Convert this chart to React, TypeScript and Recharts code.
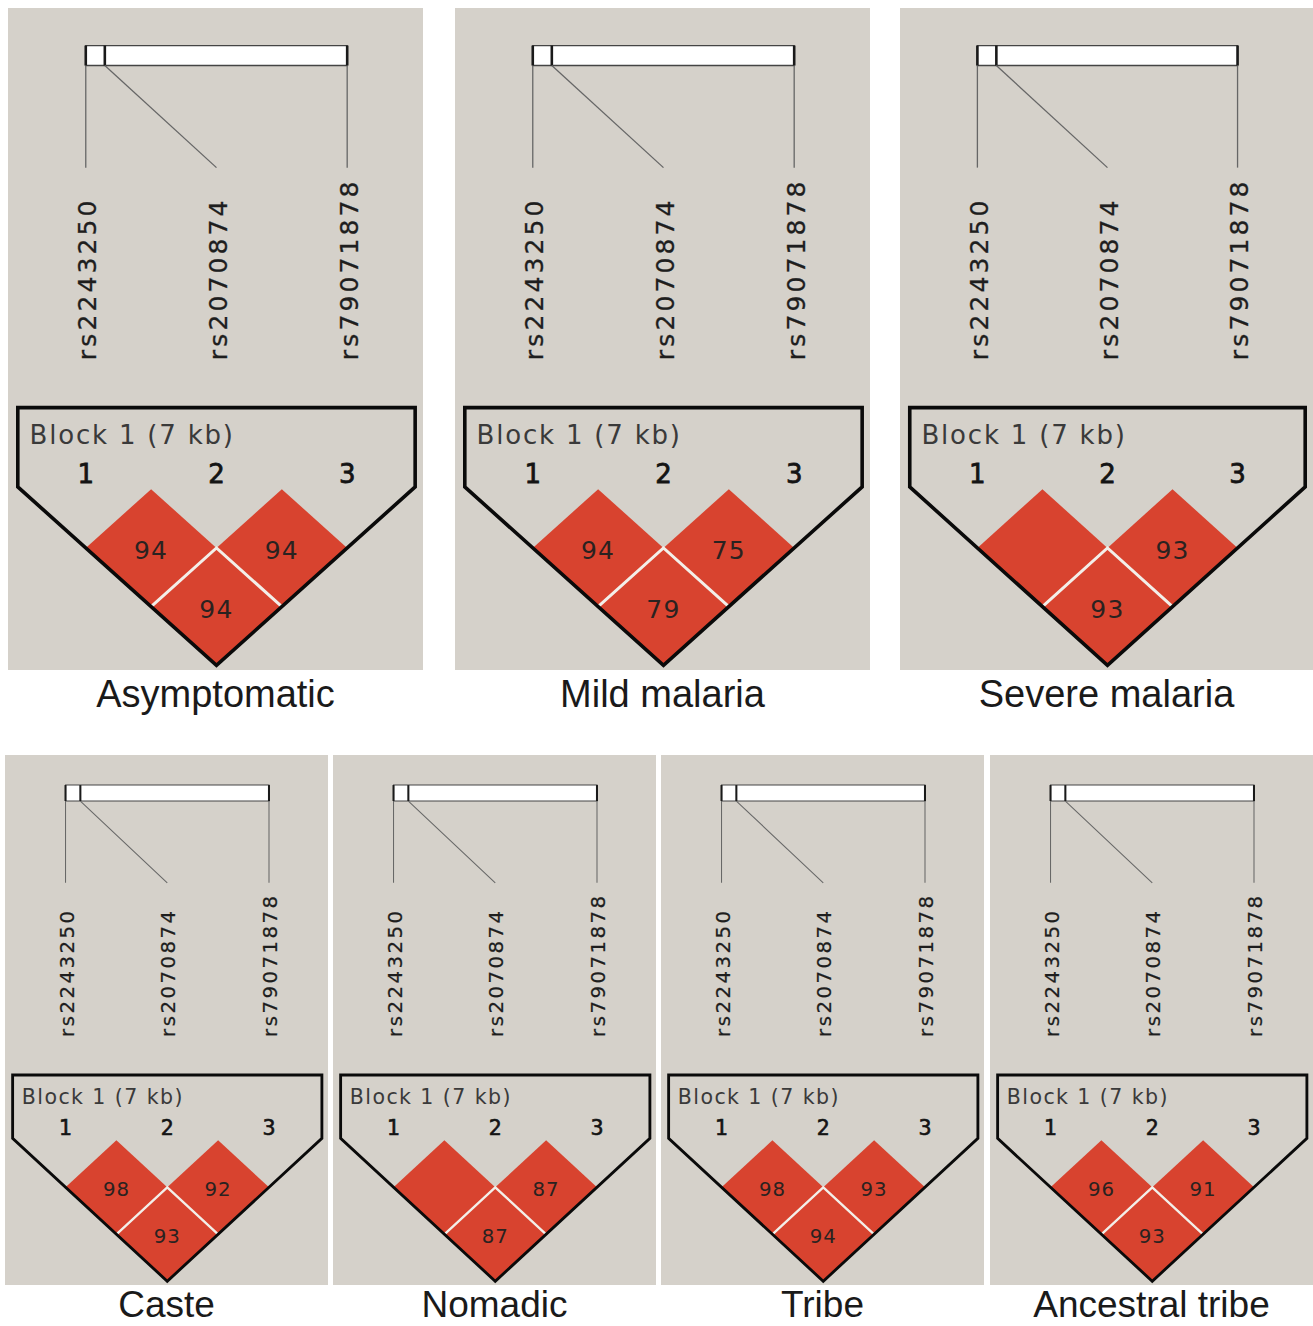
import React from "react";
import { ComposedChart, XAxis, YAxis, Scatter, ReferenceArea, ReferenceLine } from "recharts";

// markers of the block and their physical position inside the 7 kb block
const SNP_NAMES = ["rs2243250", "rs2070874", "rs79071878"];
const SNP_POS_KB = [0, 0.51, 7];
const BLOCK_KB = 7;
const BLOCK_LABEL = "Block 1 (7 kb)";

// D' (x100) for marker pairs 1-2, 2-3, 1-3 ; 100 = D' of 1, printed without a number
const PAIRS = [
  [1, 2],
  [2, 3],
  [1, 3],
];
const ASYMPTOMATIC = [94, 94, 94];
const MILD_MALARIA = [94, 75, 79];
const SEVERE_MALARIA = [100, 93, 93];
const CASTE = [98, 92, 93];
const NOMADIC = [100, 87, 87];
const TRIBE = [98, 93, 94];
const ANCESTRAL_TRIBE = [96, 91, 93];

const TOP_TITLES = ["Asymptomatic", "Mild malaria", "Severe malaria"];
const TOP_VALUES = [ASYMPTOMATIC, MILD_MALARIA, SEVERE_MALARIA];
const BOTTOM_TITLES = ["Caste", "Nomadic", "Tribe", "Ancestral tribe"];
const BOTTOM_VALUES = [CASTE, NOMADIC, TRIBE, ANCESTRAL_TRIBE];

const BG = "#d5d1ca";
const RED = "#d8432f";
const X_DOMAIN = [0.405, 3.58];
const Y_DOMAIN = [-8.2, 3.08];

// vertical layout, in "diamond row" units (row 1 diamonds span 0..2)
const BAR_TOP = -7.56;
const BAR_BOTTOM = -7.22;
const CONNECT_END = -5.48;
const LABEL_BASE = -2.2;
const BOX_TOP = -1.39;
const BOX_MARGIN = 0.52;
const BLOCK_TEXT_Y = -0.77;
const NUMBER_Y = -0.26;

const polygonLine = (fill: string, stroke: string, strokeWidth: number) => (lp: any) => (
  <polygon
    points={lp.points.map((p: any) => `${p.x},${p.y}`).join(" ")}
    fill={fill}
    stroke={stroke}
    strokeWidth={strokeWidth}
    strokeLinejoin="miter"
  />
);
const noDot = () => <g />;

function LDPanel({ title, values, left, top, width, height, k, capGap, capSize, capLine }: any) {
  const n = SNP_NAMES.length;
  const physX = SNP_POS_KB.map((p) => 1 + ((n - 1) * p) / BLOCK_KB);
  const cells = PAIRS.map(([i, j], idx) => ({ x: (i + j) / 2, y: j - i, value: values[idx] }));
  const diamonds = cells.map((c) => [
    { x: c.x - 0.5, y: c.y },
    { x: c.x, y: c.y - 1 },
    { x: c.x + 0.5, y: c.y },
    { x: c.x, y: c.y + 1 },
  ]);
  const seams = cells
    .filter((c) => c.y > 1)
    .map((c) => [
      { x: c.x - 0.5, y: c.y },
      { x: c.x, y: c.y - 1 },
      { x: c.x + 0.5, y: c.y },
    ]);
  const bl = 1 - BOX_MARGIN;
  const br = n + BOX_MARGIN;
  const sideDepth = 2 * (bl - 1) + 1;
  const box = [
    { x: bl, y: BOX_TOP },
    { x: br, y: BOX_TOP },
    { x: br, y: sideDepth },
    { x: (1 + n) / 2, y: n },
    { x: bl, y: sideDepth },
  ];
  const labels = SNP_NAMES.map((name, i) => ({ x: i + 1, y: LABEL_BASE, name }));
  const numbers = SNP_NAMES.map((_, i) => ({ x: i + 1, y: NUMBER_Y, name: String(i + 1) }));

  return (
    <div style={{ position: "absolute", left, top, width }}>
      <div style={{ background: BG, width, height }}>
        <ComposedChart width={width} height={height} margin={{ top: 0, right: 0, bottom: 0, left: 0 }}>
          <XAxis type="number" dataKey="x" domain={X_DOMAIN} hide allowDataOverflow />
          <YAxis type="number" dataKey="y" domain={Y_DOMAIN} hide reversed allowDataOverflow />
          <ReferenceArea x1={1} x2={n} y1={BAR_TOP} y2={BAR_BOTTOM} fill="#ffffff" fillOpacity={1} stroke="#444" strokeWidth={1.3 * k} />
          {physX.map((px, i) => (
            <ReferenceLine key={"t" + i} segment={[{ x: px, y: BAR_TOP }, { x: px, y: BAR_BOTTOM }]} stroke="#1a1a1a" strokeWidth={2.6 * k} />
          ))}
          {physX.map((px, i) => (
            <ReferenceLine key={"c" + i} segment={[{ x: px, y: BAR_BOTTOM }, { x: i + 1, y: CONNECT_END }]} stroke="#666" strokeWidth={1.3 * k} />
          ))}
          <Scatter
            data={labels}
            isAnimationActive={false}
            shape={(p: any) => (
              <text
                transform={`translate(${p.cx + 2 * k},${p.cy}) rotate(-90)`}
                textAnchor="start"
                dominantBaseline="central"
                fontFamily="DejaVu Sans"
                fontSize={25 * k}
                fill="#1e1e1e"
                stroke="#1e1e1e"
                strokeWidth={0.3 * k}
                style={{ letterSpacing: 3.1 * k }}
              >
                {p.payload.name}
              </text>
            )}
          />
          {diamonds.map((d, i) => (
            <Scatter key={"d" + i} data={d} isAnimationActive={false} shape={noDot} line={polygonLine(RED, "none", 0)} lineType="joint" />
          ))}
          {seams.map((s, i) => (
            <Scatter key={"s" + i} data={s} isAnimationActive={false} shape={noDot} line={{ stroke: "#f3efe9", strokeWidth: 3 * k }} lineType="joint" />
          ))}
          <Scatter
            data={cells.filter((c) => c.value < 100)}
            isAnimationActive={false}
            shape={(p: any) => (
              <text
                x={p.cx}
                y={p.cy + 3 * k}
                textAnchor="middle"
                dominantBaseline="central"
                fontFamily="DejaVu Sans"
                fontSize={25 * k}
                fill="#2a2220"
                style={{ letterSpacing: 1.2 * k }}
              >
                {p.payload.value}
              </text>
            )}
          />
          <Scatter
            data={[{ x: bl + 0.09, y: BLOCK_TEXT_Y }]}
            isAnimationActive={false}
            shape={(p: any) => (
              <text x={p.cx} y={p.cy} fontFamily="DejaVu Sans" fontSize={26 * k} fill="#3a3a3a" style={{ letterSpacing: 1.8 * k }}>
                {BLOCK_LABEL}
              </text>
            )}
          />
          <Scatter
            data={numbers}
            isAnimationActive={false}
            shape={(p: any) => (
              <text
                x={p.cx}
                y={p.cy}
                textAnchor="middle"
                dominantBaseline="central"
                fontFamily="DejaVu Sans"
                fontSize={26 * k}
                fill="#141414"
                stroke="#141414"
                strokeWidth={0.8 * k}
              >
                {p.payload.name}
              </text>
            )}
          />
          <Scatter data={box} isAnimationActive={false} shape={noDot} line={polygonLine("none", "#0a0a0a", 3.6 * k)} lineType="joint" />
        </ComposedChart>
      </div>
      <div
        style={{
          width,
          textAlign: "center",
          fontFamily: "'Liberation Sans', Arial, sans-serif",
          fontSize: capSize,
          lineHeight: capLine + "px",
          marginTop: capGap,
          color: "#1a1a1a",
          whiteSpace: "nowrap",
        }}
      >
        {title}
      </div>
    </div>
  );
}

export default function App() {
  const topLefts = [8, 455, 900];
  const bottomLefts = [5, 333, 661, 990];
  return (
    <div style={{ position: "absolute", left: 0, top: 0, width: 1313, height: 1326, background: "#fff", overflow: "hidden" }}>
      {TOP_TITLES.map((t, i) => (
        <LDPanel
          key={t}
          title={t}
          values={TOP_VALUES[i]}
          left={topLefts[i]}
          top={8}
          width={i === 2 ? 413 : 415}
          height={662}
          k={1}
          capGap={7}
          capSize={38}
          capLine={34}
        />
      ))}
      {BOTTOM_TITLES.map((t, i) => (
        <LDPanel
          key={t}
          title={t}
          values={BOTTOM_VALUES[i]}
          left={bottomLefts[i]}
          top={755}
          width={323}
          height={530}
          k={0.79}
          capGap={6}
          capSize={37}
          capLine={28}
        />
      ))}
    </div>
  );
}
